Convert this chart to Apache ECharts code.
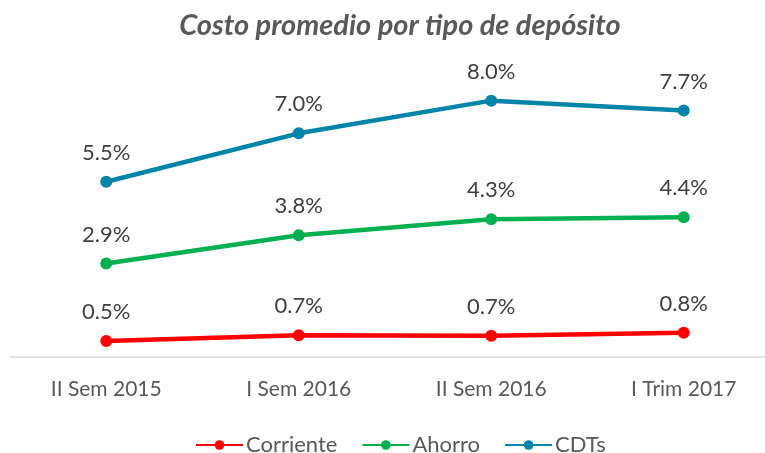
<!DOCTYPE html>
<html>
<head>
<meta charset="utf-8">
<script src="https://cdn.jsdelivr.net/npm/echarts@6/dist/echarts.min.js"></script>
<style>
  html, body { margin: 0; padding: 0; background: #fff; overflow: hidden; }
  /* el area del grafico sale un poco por la derecha, como en el original */
  #chart { width: 780px; height: 453px; }
</style>
</head>
<body>
<div id="chart"></div>
<script>
// datos
var categorias = ["II Sem 2015", "I Sem 2016", "II Sem 2016", "I Trim 2017"];
var corriente = [0.5, 0.68, 0.66, 0.76];
var ahorro = [2.92, 3.8, 4.3, 4.36];
var cdts = [5.47, 6.98, 8.0, 7.69];

var fuente = "Lato, 'Open Sans', sans-serif";

function serie(nombre, datos, color) {
  return {
    name: nombre,
    type: "line",
    data: datos,
    symbol: "circle",
    symbolSize: 12,
    lineStyle: { width: 4.5, color: color },
    itemStyle: { color: color },
    label: {
      show: true,
      position: "top",
      distance: 12,
      fontSize: 22,
      fontFamily: fuente,
      color: "#404040",
      formatter: function (p) {
        return p.value.toFixed(1) + "%";
      },
    },
    emphasis: { disabled: true },
  };
}

var myChart = echarts.init(document.getElementById("chart"));
var option = {
  animation: false,
  title: {
    text: "Costo promedio por tipo de depósito",
    left: 395,
    textAlign: "center",
    top: 6,
    textStyle: {
      fontFamily: fuente,
      fontSize: 29,
      fontWeight: "bold",
      fontStyle: "italic",
      color: "#595959",
    },
  },
  legend: {
    top: 429,
    left: 190,
    itemWidth: 47,
    itemHeight: 12,
    itemGap: 24,
    textStyle: { fontFamily: fuente, fontSize: 22, color: "#595959", padding: [0, 0, 0, -2] },
    data: ["Corriente", "Ahorro", "CDTs"],
  },
  grid: { left: 10, right: 0, top: 68.6, bottom: 96 },
  xAxis: {
    type: "category",
    data: categorias,
    axisLine: { lineStyle: { color: "#d9d9d9", width: 1.5 } },
    axisTick: { show: false },
    axisLabel: {
      fontFamily: fuente,
      fontSize: 21,
      color: "#595959",
      margin: 22,
    },
  },
  yAxis: {
    type: "value",
    min: 0,
    max: 9,
    show: false,
    splitLine: { show: false },
  },
  series: [
    serie("Corriente", corriente, "#ff0000"),
    serie("Ahorro", ahorro, "#00b050"),
    serie("CDTs", cdts, "#0085a8"),
  ],
};
myChart.setOption(option);
</script>
</body>
</html>
